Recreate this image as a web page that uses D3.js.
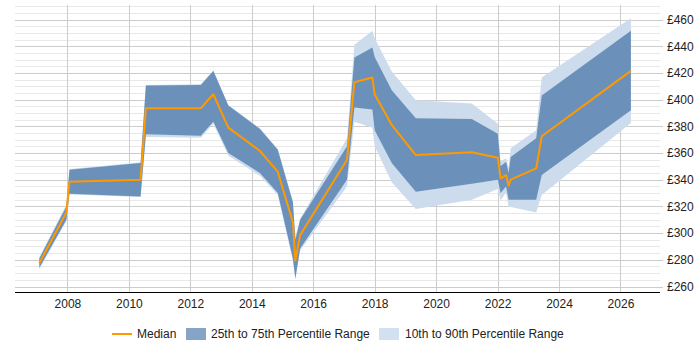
<!DOCTYPE html>
<html>
<head>
<meta charset="utf-8">
<script src="https://cdn.jsdelivr.net/npm/d3@7"></script>
<style>
  body { margin: 0; background: #fff; font-family: "Liberation Sans", Arial, sans-serif; }
</style>
</head>
<body>
<div id="chart"></div>
<script>
// values
const dates = ['2007-02-01', '2007-12-20', '2008-01-25', '2010-05-20', '2010-07-22', '2012-05-05',
  '2012-10-01', '2013-03-28', '2014-04-08', '2014-11-06', '2015-05-05', '2015-06-03', '2015-07-30',
  '2017-02-06', '2017-05-05', '2017-12-05', '2018-01-01', '2018-07-23', '2019-05-05', '2021-03-01',
  '2022-01-04', '2022-02-06', '2022-04-12', '2022-05-12', '2022-06-06', '2023-04-05', '2023-06-10',
  '2026-05-05'];
const median = [277.5, 315.5, 338.5, 340, 393.5, 393.5, 404, 379, 361.5, 346, 308, 279.5, 298.5,
  355, 413, 416.5, 404, 381, 358.5, 360.5, 356.5, 341, 343.5, 335.5, 340, 348.5, 372.5, 421.5];
const p25 = [274, 310, 329.5, 327.5, 374, 373, 383.5, 360, 345, 330, 281, 266, 288.5,
  340, 394, 392.5, 377, 352.5, 331, 337, 340, 330, 335, 325, 325, 325, 343.5, 392];
const p75 = [281, 320, 347.5, 352.5, 410.5, 411, 421.5, 395.5, 378, 362.5, 323, 295, 310,
  365, 431.5, 439, 432, 407, 386, 385.5, 374.5, 350, 353.5, 345, 357, 371, 403, 451.5];
const p10 = [273, 309, 329, 327, 372, 371.5, 382, 358, 343, 328.5, 279, 265, 287,
  335, 383.5, 379, 365, 338, 318, 325, 333, 324.5, 330.5, 319.5, 319.5, 315.5, 328.5, 382.5];
const p90 = [282, 321.5, 348, 353, 411, 411.5, 422, 396, 378.5, 363, 324, 297, 311,
  371, 441, 451.5, 446, 421, 399.5, 397, 382, 354, 356, 349, 363.5, 377, 416.5, 461];
const xTickYears = [2008, 2010, 2012, 2014, 2016, 2018, 2020, 2022, 2024, 2026];
const yTickValues = [260, 280, 300, 320, 340, 360, 380, 400, 420, 440, 460];
const legendLabels = ['Median', '25th to 75th Percentile Range', '10th to 90th Percentile Range'];

const width = 700, height = 350;
const plotLeft = 15, plotRight = 660, plotBottom = 292, plotTop = 5;

const parse = d3.timeParse('%Y-%m-%d');
const rows = dates.map((d, i) => ({
  date: parse(d), med: median[i], lo25: p25[i], hi75: p75[i], lo10: p10[i], hi90: p90[i]
}));

const svg = d3.select('#chart').append('svg')
  .attr('width', width)
  .attr('height', height);

const x = d3.scaleTime()
  .domain([new Date(2006, 3, 18), new Date(2027, 3, 16)])
  .range([plotLeft, plotRight]);
const y = d3.scaleLinear()
  .domain([260, 460])
  .range([286.5, 19.5]);

// horizontal grid, minor every 5, major every 20
const grid = svg.append('g');
grid.selectAll('line.minor')
  .data(d3.range(260, 471, 5).filter(v => v % 20 !== 0))
  .enter().append('line')
    .attr('x1', plotLeft).attr('x2', plotRight)
    .attr('y1', d => Math.round(y(d)) + 0.5)
    .attr('y2', d => Math.round(y(d)) + 0.5)
    .style('stroke', '#e8e8e8');
grid.selectAll('line.major')
  .data(yTickValues)
  .enter().append('line')
    .attr('x1', plotLeft).attr('x2', plotRight + 3)
    .attr('y1', d => Math.round(y(d)) + 0.5)
    .attr('y2', d => Math.round(y(d)) + 0.5)
    .style('stroke', '#cccccc');
grid.selectAll('line.vert')
  .data(xTickYears)
  .enter().append('line')
    .attr('x1', d => Math.round(x(new Date(d, 0, 1))) + 0.5)
    .attr('x2', d => Math.round(x(new Date(d, 0, 1))) + 0.5)
    .attr('y1', plotTop).attr('y2', plotBottom)
    .style('stroke', '#cccccc');

// bands
const band90 = d3.area()
  .x(d => x(d.date))
  .y0(d => y(d.lo10))
  .y1(d => y(d.hi90));
const band75 = d3.area()
  .x(d => x(d.date))
  .y0(d => y(d.lo25))
  .y1(d => y(d.hi75));
svg.append('path').datum(rows)
  .attr('d', band90)
  .style('fill', '#cddcec');
svg.append('path').datum(rows)
  .attr('d', band75)
  .style('fill', '#6b91ba');

const medLine = d3.line()
  .x(d => x(d.date))
  .y(d => y(d.med));
svg.append('path').datum(rows)
  .attr('d', medLine)
  .style('fill', 'none')
  .style('stroke', '#ff9900')
  .style('stroke-width', 2)
  .style('stroke-linejoin', 'round');

// axes
const xAxis = d3.axisBottom(x)
  .tickValues(xTickYears.map(yr => new Date(yr, 0, 1)))
  .tickFormat(d3.timeFormat('%Y'))
  .tickSize(0)
  .tickPadding(7);
const gx = svg.append('g')
  .attr('transform', `translate(0,${plotBottom})`)
  .call(xAxis);
gx.select('.domain').remove();
gx.selectAll('text').style('font-size', '12px').style('fill', '#222')
  .style('font-family', '"Liberation Sans", Arial, sans-serif');
svg.append('line')
  .attr('x1', plotLeft).attr('x2', plotRight)
  .attr('y1', plotBottom + 0.5).attr('y2', plotBottom + 0.5)
  .style('stroke', '#000');

const yAxis = d3.axisRight(y)
  .tickValues(yTickValues)
  .tickFormat(d => '£' + d)
  .tickSize(0)
  .tickPadding(7);
const gy = svg.append('g')
  .attr('transform', `translate(${plotRight},0)`)
  .call(yAxis);
gy.select('.domain').remove();
gy.selectAll('text').style('font-size', '12px').style('fill', '#222')
  .style('font-family', '"Liberation Sans", Arial, sans-serif');

// legend
const legend = svg.append('g').attr('transform', 'translate(0,334)');
legend.append('line')
  .attr('x1', 112).attr('x2', 132).attr('y1', 0).attr('y2', 0)
  .style('stroke', '#ff9900').style('stroke-width', 2);
legend.append('rect')
  .attr('x', 186).attr('y', -6).attr('width', 20).attr('height', 12)
  .style('fill', '#86a5c6');
legend.append('rect')
  .attr('x', 379).attr('y', -6).attr('width', 20).attr('height', 12)
  .style('fill', '#d2e0ef');
legend.selectAll('text')
  .data(legendLabels)
  .enter().append('text')
    .attr('x', (d, i) => [137, 211, 405][i])
    .attr('y', 0)
    .attr('dy', '0.35em')
    .style('font-size', '12px')
    .style('fill', '#222')
    .text(d => d);
</script>
</body>
</html>
